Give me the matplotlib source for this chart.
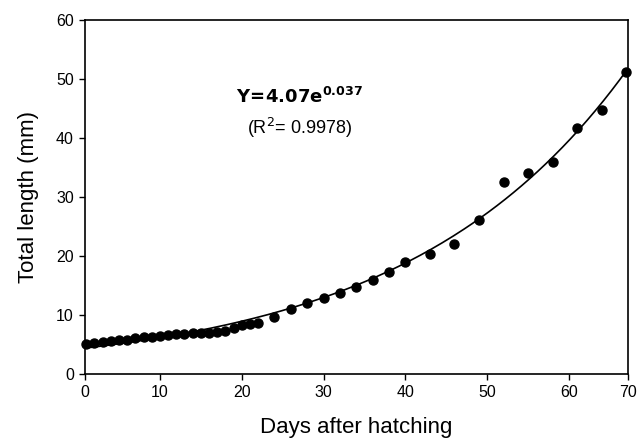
import numpy as np
import matplotlib
matplotlib.use("Agg")
import matplotlib.pyplot as plt

plt.rcParams['font.family'] = ['Liberation Sans', 'DejaVu Sans']

# days after hatching and total length (mm)
days = [1, 2, 3, 4, 5, 6, 7, 8, 9, 10, 11, 12, 13, 14, 15, 16, 17, 18, 19, 20,
        21, 22, 24, 26, 28, 30, 32, 34, 36, 38, 40, 43, 46, 49, 52, 55, 58,
        61, 64, 67]
length = [5.1, 5.3, 5.4, 5.6, 5.7, 5.8, 6.0, 6.2, 6.3, 6.5, 6.6, 6.7, 6.8,
          7.0, 7.0, 7.0, 7.1, 7.3, 7.8, 8.3, 8.5, 8.7, 9.6, 11.0, 12.1, 12.9,
          13.7, 14.8, 15.9, 17.2, 18.9, 20.3, 22.0, 26.1, 32.6, 34.0, 36.0,
          41.6, 44.8, 51.1]

x_tick_labels = ['0', '10', '20', '30', '40', '50', '60', '70']
y_ticks = [0, 10, 20, 30, 40, 50, 60]

x = np.array(days, dtype=float)
y = np.array(length)

# exponential fit (weighted log fit ~ least squares on y)
k, ln_a = np.polyfit(x, np.log(y), 1, w=y)
x_fit = np.linspace(0.85, 67.2, 200)
y_fit = np.exp(ln_a) * np.exp(k * x_fit)

fig = plt.figure(figsize=(6.44, 4.43), dpi=100)
ax = fig.add_axes([0.132, 0.156, 0.843, 0.799])

ax.plot(x_fit, y_fit, color='black', lw=1.2)
ax.plot(x, y, 'o', color='black', ms=6.5, clip_on=False, zorder=3)

x_lo, x_hi = 0.85, 67.2
ax.set_xlim(x_lo, x_hi)
ax.set_ylim(0, 60)
ax.set_xticks([x_lo, 10, 20, 30, 40, 50, 60, x_hi])
ax.set_xticklabels(x_tick_labels)
ax.set_yticks(y_ticks)
ax.tick_params(direction='out', length=4, width=1, labelsize=11.5, pad=4)

for s in ax.spines.values():
    s.set_linewidth(1.2)

ax.set_xlabel('Days after hatching', fontsize=16, labelpad=12)
ax.set_ylabel('Total length (mm)', fontsize=16, labelpad=12)

ax.text(27.1, 47, r'$\mathbf{Y\!=\!4.07e^{0.037}}$', ha='center', va='center',
        fontsize=13, fontweight='bold')
ax.text(27.1, 41.7, r'(R$^2$= 0.9978)', ha='center', va='center', fontsize=13)

fig.savefig('out.png', dpi=100)
